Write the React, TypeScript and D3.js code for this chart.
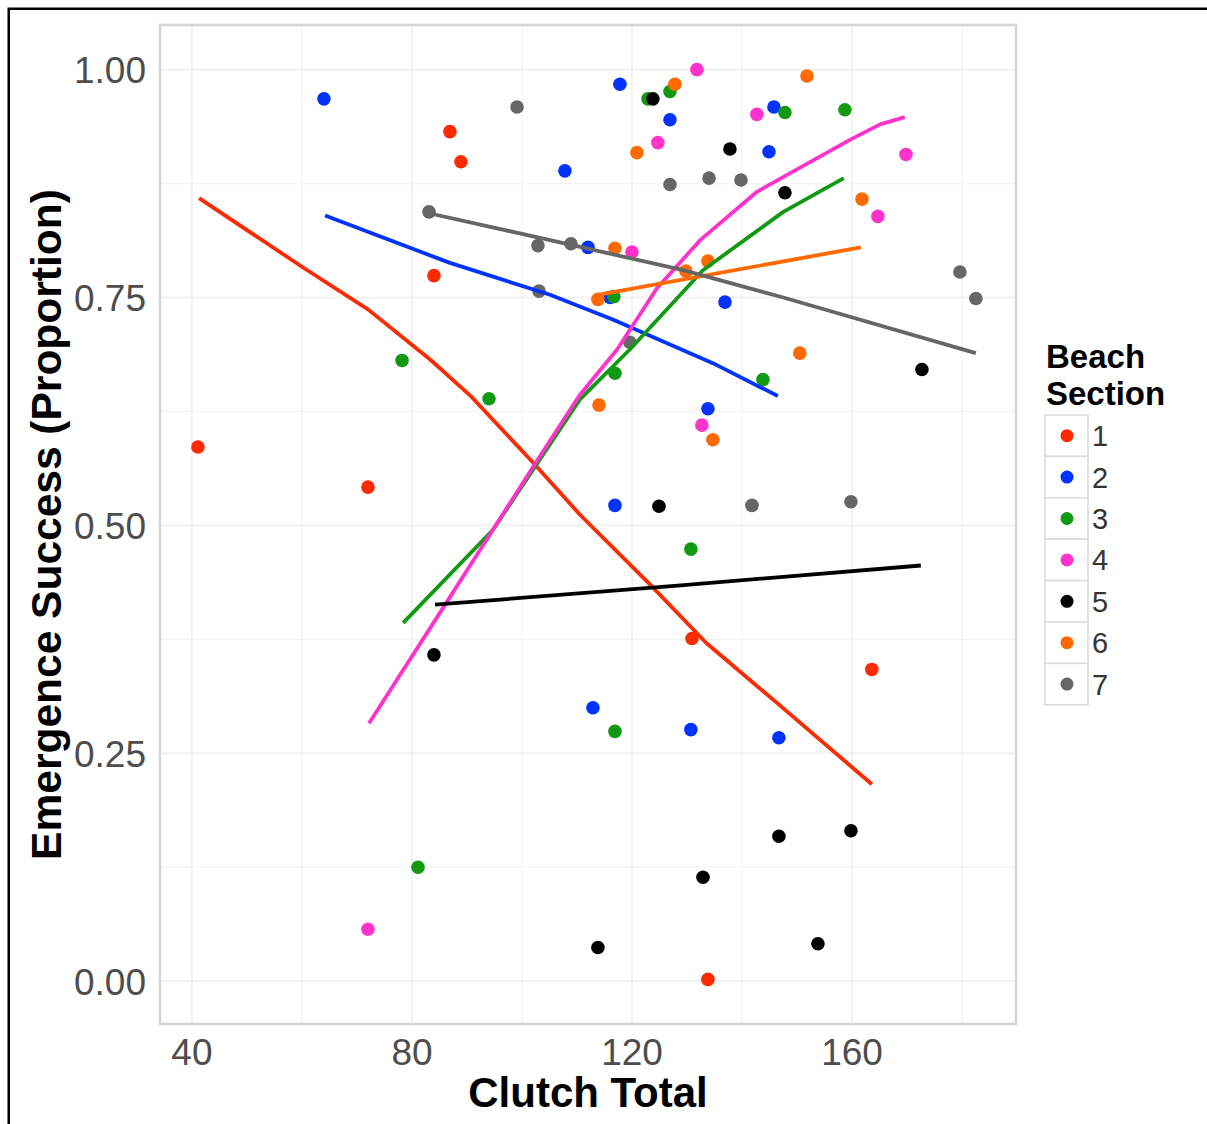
import React from "react"
import * as d3 from "d3"

// clutch total vs emergence success, one array per beach section: [clutch, proportion]
const sec1: [number, number][] = [[41.1, 0.586], [72, 0.542], [84, 0.774], [86.9, 0.932], [88.9, 0.899], [130.9, 0.376], [133.8, 0.002], [163.6, 0.342]]
const sec2: [number, number][] = [[64, 0.968], [107.8, 0.889], [112, 0.805], [117.8, 0.984], [116, 0.75], [126.9, 0.945], [136.9, 0.745], [133.8, 0.628], [116.9, 0.522], [144.9, 0.91], [145.8, 0.959], [112.9, 0.3], [130.7, 0.276], [146.7, 0.267]]
const sec3: [number, number][] = [[78.2, 0.681], [94, 0.639], [81.1, 0.125], [116.9, 0.667], [116.7, 0.751], [143.8, 0.66], [130.7, 0.474], [116.9, 0.274], [122.9, 0.968], [126.9, 0.976], [147.8, 0.953], [158.7, 0.956]]
const sec4: [number, number][] = [[131.8, 1.0], [124.7, 0.92], [142.7, 0.951], [120, 0.8], [132.7, 0.61], [169.8, 0.907], [164.7, 0.839], [72, 0.057]]
const sec5: [number, number][] = [[123.8, 0.968], [137.8, 0.913], [147.8, 0.865], [172.7, 0.671], [124.9, 0.521], [84, 0.358], [113.8, 0.037], [132.9, 0.114], [146.7, 0.159], [159.8, 0.165], [153.8, 0.041]]
const sec6: [number, number][] = [[127.8, 0.984], [151.8, 0.993], [120.9, 0.909], [116.9, 0.804], [133.8, 0.79], [113.8, 0.748], [129.8, 0.779], [114, 0.632], [150.5, 0.689], [134.7, 0.594], [161.8, 0.858]]
const sec7: [number, number][] = [[83.1, 0.844], [99.1, 0.959], [102.9, 0.807], [108.9, 0.809], [103.1, 0.757], [126.9, 0.874], [134, 0.881], [139.8, 0.879], [119.6, 0.701], [141.8, 0.522], [159.8, 0.526], [179.6, 0.778], [182.5, 0.749]]

// smoothed fits
const fit1: [number, number][] = [[41.3, 0.859], [60.2, 0.783], [72, 0.737], [83.3, 0.682], [90.5, 0.643], [102, 0.569], [110.5, 0.512], [123.3, 0.435], [133.5, 0.371], [146.4, 0.305], [163.6, 0.216]]
const fit2: [number, number][] = [[64.2, 0.84], [86.9, 0.788], [105.1, 0.753], [116.5, 0.726], [134.7, 0.678], [146.5, 0.642]]
const fit3: [number, number][] = [[78.4, 0.393], [94.7, 0.495], [110.5, 0.638], [119.6, 0.693], [132.9, 0.78], [147.5, 0.844], [158.5, 0.881]]
const fit4: [number, number][] = [[72.2, 0.283], [85.6, 0.409], [102, 0.564], [110.5, 0.643], [117.3, 0.693], [124.5, 0.76], [132.4, 0.813], [142.7, 0.866], [159.6, 0.923], [165.1, 0.94], [169.6, 0.948]]
const fit5: [number, number][] = [[84.2, 0.413], [128.3, 0.434], [172.5, 0.456]]
const fit6: [number, number][] = [[113.8, 0.753], [161.6, 0.805]]
const fit7: [number, number][] = [[82.7, 0.843], [105.1, 0.813], [129.3, 0.78], [147.5, 0.75], [182.5, 0.689]]

const sections = ["1", "2", "3", "4", "5", "6", "7"]
const points = [sec1, sec2, sec3, sec4, sec5, sec6, sec7]
const fits = [fit1, fit2, fit3, fit4, fit5, fit6, fit7]
const palette = ["#ff2a00", "#0033ff", "#119911", "#ff33cc", "#000000", "#ff6a00", "#666666"]

const xTicks = [40, 80, 120, 160]
const xMinor = [60, 100, 140, 180]
const yTicks = [0, 0.25, 0.5, 0.75, 1]
const yMinor = [0.125, 0.375, 0.625, 0.875]

const font = "'Liberation Sans', Arial, Helvetica, sans-serif"

const App = () => {
    const left = 160, right = 1016, top = 25, bottom = 1024
    const x = d3.scaleLinear().domain([34.2, 189.8]).range([left, right])
    const y = d3.scaleLinear().domain([-0.047, 1.049]).range([bottom, top])
    const line = d3.line<[number, number]>().x(d => x(d[0])).y(d => y(d[1]))

    const legX = 1045, legY = 415, keyH = 41.4

    return (
        <svg width={1207} height={1124} style={{ position: "absolute", left: 0, top: 0, display: "block" }} fontFamily={font}>
            <rect x={0} y={0} width={1207} height={1124} fill="#fff" />
            <rect x={8.75} y={8.75} width={1300} height={1300} fill="none" stroke="#000" strokeWidth={2.5} />

            {/* grid */}
            {xMinor.map(v => <line key={"xm" + v} x1={x(v)} x2={x(v)} y1={top} y2={bottom} stroke="#f4f4f4" strokeWidth={1.2} />)}
            {yMinor.map(v => <line key={"ym" + v} x1={left} x2={right} y1={y(v)} y2={y(v)} stroke="#f4f4f4" strokeWidth={1.2} />)}
            {xTicks.map(v => <line key={"xg" + v} x1={x(v)} x2={x(v)} y1={top} y2={bottom} stroke="#efefef" strokeWidth={1.6} />)}
            {yTicks.map(v => <line key={"yg" + v} x1={left} x2={right} y1={y(v)} y2={y(v)} stroke="#efefef" strokeWidth={1.6} />)}

            {/* points */}
            {points.map((arr, i) => arr.map((d, j) => (
                <circle key={i + "-" + j} cx={x(d[0])} cy={y(d[1])} r={6.8} fill={palette[i]} />
            )))}

            {/* smooth lines */}
            {fits.map((arr, i) => (
                <path key={"f" + i} d={line(arr) || ""} fill="none" stroke={palette[i]} strokeWidth={3.8} strokeLinejoin="round" />
            ))}

            <rect x={left} y={top} width={right - left} height={bottom - top} fill="none" stroke="#d4d4d4" strokeWidth={2.5} />

            {/* axes */}
            {xTicks.map(v => (
                <text key={"xt" + v} x={x(v)} y={1065} textAnchor="middle" fontSize={37} fill="#4d4d4d">{v}</text>
            ))}
            {yTicks.map(v => (
                <text key={"yt" + v} x={146} y={y(v) + 13.5} textAnchor="end" fontSize={37} fill="#4d4d4d">{v.toFixed(2)}</text>
            ))}
            <text x={(left + right) / 2} y={1107} textAnchor="middle" fontSize={42} fontWeight="bold" fill="#000">Clutch Total</text>
            <text transform={`translate(61,${(top + bottom) / 2}) rotate(-90)`} textAnchor="middle" fontSize={42.5} fontWeight="bold" fill="#000">Emergence Success (Proportion)</text>

            {/* legend */}
            <text x={1046} y={368} fontSize={33} fontWeight="bold" fill="#000">Beach</text>
            <text x={1046} y={405} fontSize={33} fontWeight="bold" fill="#000">Section</text>
            {sections.map((s, i) => (
                <g key={"lg" + s} transform={`translate(${legX},${legY + i * keyH})`}>
                    <rect x={0} y={0} width={43} height={keyH} fill="#fff" stroke="#dcdcdc" strokeWidth={1.6} />
                    <circle cx={22} cy={keyH / 2} r={6.5} fill={palette[i]} />
                    <text x={47} y={keyH / 2 + 10.5} fontSize={29} fill="#333">{s}</text>
                </g>
            ))}
        </svg>
    )
}

export default App
